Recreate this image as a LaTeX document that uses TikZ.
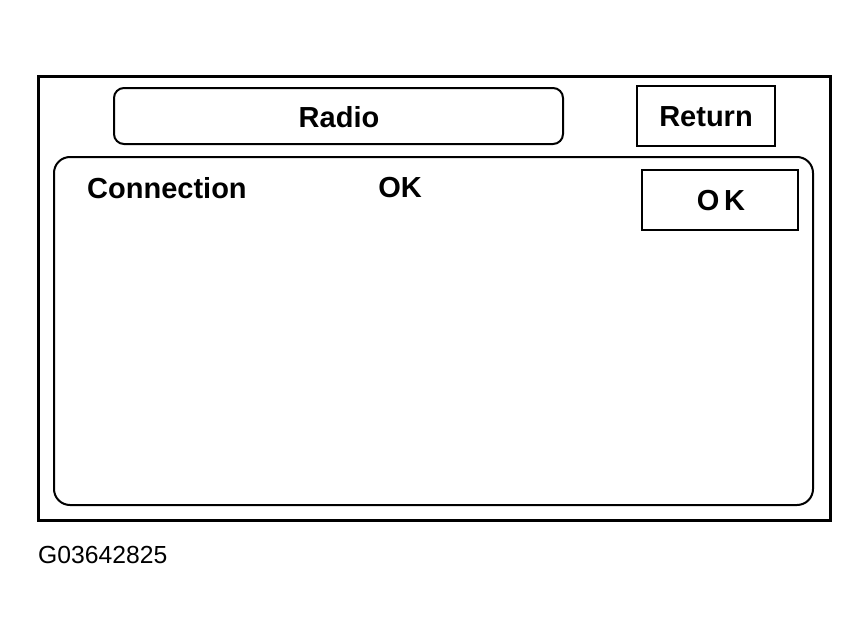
\documentclass[tikz,border=0pt]{standalone}
\usepackage{fontspec}
\setmainfont{Liberation Sans}
\begin{document}
\begin{tikzpicture}[x=1pt,y=-1pt,
  lbl/.style={font=\fontsize{29}{33}\selectfont\bfseries, inner sep=0pt},
  frame/.style={draw, line width=2pt}]
\useasboundingbox (0,0) rectangle (868,640);
\draw[line width=3pt] (38,76) rectangle (830,520);
\draw[frame, rounded corners=10pt] (114,88) rectangle (563,144);
\node[lbl] (radio) at (339,117) {Radio};
\draw[frame, line width=1.6pt] (637,86) rectangle (775,146);
\node[lbl] (ret) at (706,117) {Return};
\draw[frame, rounded corners=16pt] (54,157) rectangle (813,505);
\draw[frame, line width=2.4pt] (642,170) rectangle (798,230);
\node[lbl] (okb) at (721,201) {O\,K};
\node[lbl, anchor=west] (conn) at (87,188) {Connection};
\node[lbl] (ok) at (400,188) {OK};
\node[font=\fontsize{24.7}{28}\selectfont, inner sep=0pt, anchor=west] (code) at (38,555) {G03642825};
\end{tikzpicture}
\end{document}
